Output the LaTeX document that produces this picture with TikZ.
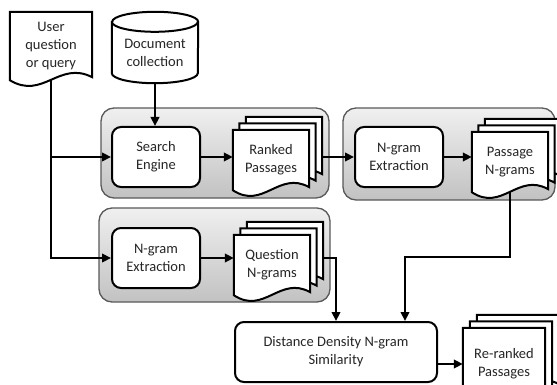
\documentclass[tikz,border=0pt]{standalone}
\usepackage{fontspec}
\setmainfont{Carlito}
\usetikzlibrary{arrows.meta,calc}
\pgfdeclarelayer{bg}
\pgfdeclarelayer{mid}
\pgfsetlayers{bg,mid,main}

\tikzset{
  every node/.style={font=\fontsize{14.5}{18}\selectfont, align=center, inner sep=0pt, text=black!85},
  procbox/.style={draw, line width=2pt, rounded corners=9pt, fill=white, minimum width=88pt, minimum height=60pt},
  groupbox/.style={draw=black!65, line width=1.3pt, rounded corners=13pt, top color=gray!12, bottom color=gray!48, minimum width=#1},
  docnode/.style={minimum width=#1, minimum height=60pt},
  docline/.style={draw, line width=2pt, fill=white},
  conn/.style={line width=2.5pt, -{Triangle[length=9pt,width=8.5pt]}},
}

% document outline around a node, shifted by (dx,dy) in picture units
\newcommand{\docwave}[3]{%
  \draw[docline] ($(#1.north west)+(#2,#3)$) -- ($(#1.north east)+(#2,#3)$)
    -- ($(#1.south east)+(#2,#3-3)$)
    .. controls ($(#1.south)+(#2+8,#3-20)$) and ($(#1.south)+(#2-8,#3+20)$) ..
    ($(#1.south west)+(#2,#3)$) -- cycle;}

\begin{document}
\begin{tikzpicture}[x=1pt,y=-1pt]
\useasboundingbox (0,0) rectangle (557,385);

% groups
\begin{pgfonlayer}{bg}
\fill[white] (0,0) rectangle (557,385);
\node[groupbox=228pt, minimum height=90pt] (g1) at (215,153) {};
\node[groupbox=212pt, minimum height=92pt] (g2) at (449,154) {};
\node[groupbox=231pt, minimum height=94pt] (g3) at (214.5,255) {};
\end{pgfonlayer}

% document-shaped nodes (text only; outlines drawn on mid layer)
\node[docnode=82pt, minimum height=68pt] (uq) at (51,46) {User\\question\\or query};
\node[docnode=76pt] (rp) at (271,160) {Ranked\\Passages};
\node[docnode=76pt] (pn) at (510,162) {Passage\\N-grams};
\node[docnode=76pt] (qn) at (272,265) {Question\\N-grams};
\node[docnode=82pt, minimum height=72pt] (rr) at (504,364) {Re-ranked\\Passages};

\begin{pgfonlayer}{mid}
\docwave{uq}{0}{0}
\docwave{rp}{13}{-13}\docwave{rp}{6.5}{-6.5}\docwave{rp}{0}{0}
\docwave{pn}{13}{-13}\docwave{pn}{6.5}{-6.5}\docwave{pn}{0}{0}
\docwave{qn}{13}{-13}\docwave{qn}{6.5}{-6.5}\docwave{qn}{0}{0}
\docwave{rr}{14}{-13}\docwave{rr}{7}{-6.5}\docwave{rr}{0}{0}
\end{pgfonlayer}

% back documents of the stacks as named anchors
\node[docnode=76pt] (rp3) at ($(rp)+(13,-13)$) {};
\node[docnode=76pt] (qn3) at ($(qn)+(13,-13)$) {};

% cylinder
\node[minimum width=86pt, minimum height=71pt] (dc) at (155,47.5) {};
\draw[line width=2pt, fill=white] ($(dc.north west)+(0,10)$) -- ($(dc.south west)+(0,-10)$)
  arc[start angle=180, end angle=360, x radius=43pt, y radius=10pt]
  -- ($(dc.north east)+(0,10)$)
  arc[start angle=0, end angle=180, x radius=43pt, y radius=10pt] -- cycle;
\draw[line width=2pt] ($(dc.north west)+(0,10)$) arc[start angle=180, end angle=360, x radius=43pt, y radius=10pt];
\node (dct) at (155,52.5) {Document\\collection};

% process boxes
\node[procbox] (se) at (156,157) {Search\\Engine};
\node[procbox] (ng2) at (399,157) {N-gram\\Extraction};
\node[procbox] (ng1) at (156,258) {N-gram\\Extraction};
\node[procbox, minimum width=202pt] (dd) at (336,352) {Distance Density N-gram\\Similarity};

% connectors
\coordinate (j2) at (405,257);
\draw[conn] (dc.south) -- (dc.south |- se.north);
\draw[conn] (uq.south) |- (ng1.west);
\draw[conn] (uq.south |- se.west) -- (se.west);
\draw[conn] (se.east) -- (rp.west |- se.east);
\draw[conn] (rp3.east |- ng2.west) -- (ng2.west);
\draw[conn] (ng2.east) -- (pn.west |- ng2.east);
\draw[conn] (ng1.east) -- (qn.west |- ng1.east);
\draw[conn] (qn3.east |- ng1.east) -| (dd.north);
\draw[conn] (pn.south) |- (j2) -- (j2 |- dd.north);
\draw[conn] (dd.east |- rr.west) -- (rr.west);
\end{tikzpicture}
\end{document}
